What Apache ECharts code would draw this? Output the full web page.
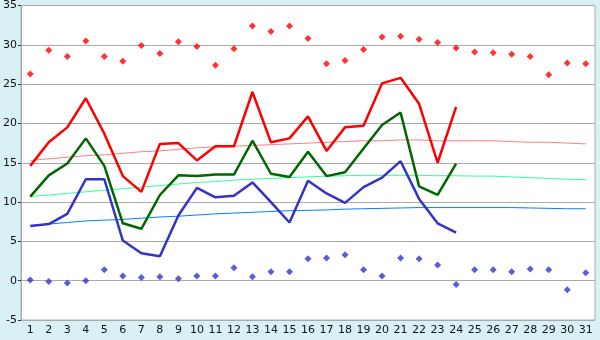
<!DOCTYPE html>
<html>
<head>
<meta charset="utf-8">
<script src="https://cdn.jsdelivr.net/npm/echarts@6/dist/echarts.min.js"></script>
<style>
  html, body { margin: 0; padding: 0; background: #d9f0f7; }
  #chart { width: 600px; height: 340px; }
</style>
</head>
<body>
<div id="chart"></div>
<script>
const days = Array.from({ length: 31 }, (_, i) => String(i + 1))

const tMax = [14.6, 17.6, 19.5, 23.2, 18.7, 13.3, 11.3, 17.4, 17.5, 15.3, 17.1, 17.1, 24.0, 17.6, 18.1, 20.9, 16.5, 19.5, 19.7, 25.1, 25.8, 22.5, 15.0, 22.1]
const tMean = [10.7, 13.4, 14.9, 18.1, 14.6, 7.3, 6.6, 10.9, 13.4, 13.3, 13.5, 13.5, 17.8, 13.6, 13.2, 16.4, 13.3, 13.8, 16.8, 19.8, 21.4, 12.0, 10.9, 14.9]
const tMin = [6.95, 7.2, 8.5, 12.9, 12.9, 5.1, 3.5, 3.1, 8.3, 11.8, 10.6, 10.8, 12.5, 10.0, 7.4, 12.7, 11.1, 9.9, 11.9, 13.1, 15.2, 10.4, 7.3, 6.1]

const recMax = [26.3, 29.3, 28.5, 30.5, 28.5, 27.9, 29.9, 28.9, 30.4, 29.8, 27.4, 29.5, 32.4, 31.7, 32.4, 30.8, 27.6, 28.0, 29.4, 31.0, 31.1, 30.7, 30.3, 29.6, 29.1, 29.0, 28.8, 28.5, 26.2, 27.7, 27.6]
const recMin = [0.1, -0.1, -0.3, 0.0, 1.4, 0.6, 0.4, 0.5, 0.25, 0.6, 0.6, 1.65, 0.5, 1.15, 1.15, 2.8, 2.9, 3.3, 1.4, 0.6, 2.9, 2.8, 2.0, -0.5, 1.4, 1.4, 1.15, 1.5, 1.4, -1.15, 1.0]

const normMax = [15.3, 15.5, 15.7, 15.9, 16.0, 16.2, 16.4, 16.5, 16.7, 16.9, 17.0, 17.1, 17.2, 17.3, 17.4, 17.5, 17.6, 17.7, 17.8, 17.8, 17.9, 17.9, 17.8, 17.8, 17.8, 17.8, 17.7, 17.6, 17.6, 17.5, 17.4]
const normMean = [10.7, 10.9, 11.1, 11.3, 11.5, 11.7, 11.9, 12.1, 12.3, 12.5, 12.6, 12.8, 12.9, 13.0, 13.1, 13.2, 13.3, 13.35, 13.4, 13.4, 13.4, 13.4, 13.35, 13.35, 13.3, 13.3, 13.2, 13.1, 13.0, 12.9, 12.85]
const normMin = [7.0, 7.2, 7.4, 7.6, 7.7, 7.8, 7.95, 8.1, 8.2, 8.35, 8.5, 8.6, 8.7, 8.8, 8.9, 8.95, 9.0, 9.1, 9.15, 9.2, 9.25, 9.3, 9.3, 9.3, 9.3, 9.3, 9.3, 9.25, 9.2, 9.15, 9.15]

const chart = echarts.init(document.getElementById('chart'))

function thinLine (data, color) {
  return {
    type: 'line', data: data, symbol: 'none', z: 2,
    lineStyle: { color: color, width: 1 },
    animation: false
  }
}
function thickLine (data, color) {
  return {
    type: 'line', data: data, symbol: 'none', z: 3,
    lineStyle: { color: color, width: 2.5 },
    animation: false
  }
}
function dots (data, color) {
  return {
    type: 'scatter', data: data, symbol: 'diamond', symbolSize: 7, z: 4,
    itemStyle: { color: color },
    animation: false
  }
}

const option = {
  backgroundColor: '#d9f0f7',
  grid: {
    left: 21, right: 5, top: 5, bottom: 20,
    show: true, backgroundColor: '#ffffff', borderColor: '#aaaaaa', borderWidth: 1
  },
  textStyle: { fontFamily: 'DejaVu Sans' },
  xAxis: {
    type: 'category',
    data: days,
    boundaryGap: true,
    axisLine: { lineStyle: { color: '#aaaaaa' } },
    axisTick: { alignWithLabel: true, length: 4, lineStyle: { color: '#333333' } },
    axisLabel: { color: '#111111', fontSize: 11, margin: 5, interval: 0 },
    splitLine: { show: false }
  },
  yAxis: {
    type: 'value',
    min: -5, max: 35, interval: 5,
    axisLine: { show: true, lineStyle: { color: '#aaaaaa' } },
    axisTick: { show: true, length: 3, lineStyle: { color: '#333333' } },
    axisLabel: { color: '#111111', fontSize: 11, margin: 4 },
    splitLine: { lineStyle: { color: '#aaaaaa', width: 1 } }
  },
  series: [
    thinLine(normMax, '#ff8080'),
    thinLine(normMean, '#33ff99'),
    thinLine(normMin, '#0080ff'),
    thickLine(tMax, '#ff0000'),
    thickLine(tMean, '#006600'),
    thickLine(tMin, '#3333cc'),
    dots(recMax, '#ff0000'),
    dots(recMin, '#3333cc')
  ]
}

chart.setOption(option)
</script>
</body>
</html>
